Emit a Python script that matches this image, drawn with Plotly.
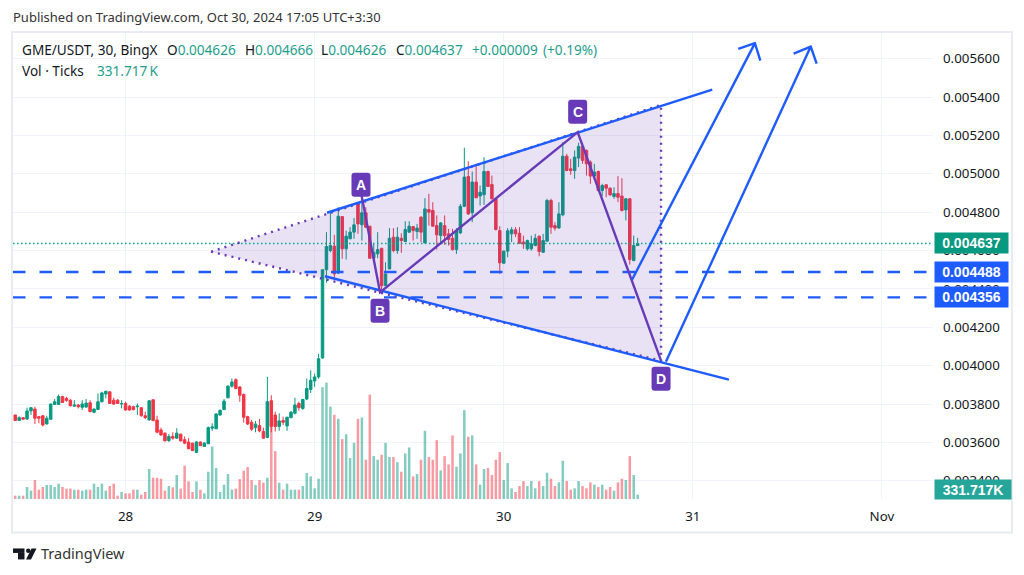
#!/usr/bin/env python3

import numpy as np
import pandas as pd
import plotly.graph_objects as go

# prices are in millionths of a USDT, volumes in thousands
TIMES = pd.date_range('2024-10-27 10:00', periods=159, freq='30min')

OPEN = [3743, 3714, 3729, 3722, 3764, 3774, 3734, 3739, 3696, 3721,
        3798, 3798, 3839, 3829, 3820, 3789, 3795, 3783, 3784, 3807,
        3757, 3772, 3812, 3852, 3864, 3820, 3820, 3800, 3803, 3789,
        3786, 3786, 3781, 3739, 3717, 3822, 3717, 3665, 3648, 3610,
        3631, 3622, 3643, 3614, 3602, 3596, 3548, 3602, 3579, 3593,
        3674, 3671, 3743, 3771, 3833, 3893, 3927, 3889, 3850, 3734,
        3705, 3677, 3688, 3657, 3626, 3817, 3743, 3683, 3714, 3686,
        3729, 3752, 3803, 3777, 3826, 3876, 3920, 3941, 4040, 4500,
        4600, 4623, 4482, 4777, 4609, 4661, 4696, 4843, 4734, 4797,
        4727, 4560, 4583, 4612, 4417, 4504, 4670, 4600, 4664, 4647,
        4696, 4725, 4699, 4774, 4640, 4814, 4809, 4730, 4678, 4730,
        4687, 4664, 4605, 4692, 4831, 4986, 4797, 4957, 4884, 4891,
        5012, 4944, 4870, 4704, 4534, 4597, 4687, 4708, 4690, 4644,
        4609, 4609, 4626, 4675, 4591, 4649, 4861, 4730, 4718, 4786,
        5092, 5026, 5017, 5082, 5143, 5122, 5061, 4988, 5012, 4913,
        4943, 4925, 4882, 4897, 4884, 4812, 4870, 4548, 4626]

HIGH = [3743, 3736, 3731, 3781, 3783, 3786, 3738, 3743, 3739, 3803,
        3826, 3850, 3843, 3838, 3826, 3820, 3800, 3820, 3826, 3820,
        3777, 3855, 3864, 3869, 3864, 3833, 3826, 3820, 3812, 3795,
        3791, 3803, 3783, 3760, 3820, 3826, 3739, 3677, 3653, 3643,
        3653, 3674, 3646, 3631, 3622, 3598, 3608, 3605, 3602, 3683,
        3700, 3752, 3772, 3826, 3898, 3933, 3933, 3893, 3855, 3739,
        3717, 3712, 3722, 3677, 3941, 3846, 3760, 3752, 3734, 3734,
        3764, 3833, 3812, 3826, 3933, 3976, 3958, 4062, 4500, 4696,
        4797, 4682, 4826, 4777, 4704, 4722, 4770, 4843, 4887, 4826,
        4727, 4635, 4696, 4612, 4539, 4717, 4717, 4722, 4690, 4753,
        4753, 4727, 4739, 4779, 4873, 4896, 4852, 4783, 4748, 4783,
        4713, 4713, 4717, 4843, 5136, 5066, 5012, 5052, 4939, 5087,
        5017, 4991, 4870, 4727, 4600, 4717, 4722, 4722, 4722, 4678,
        4657, 4678, 4687, 4678, 4687, 4870, 4870, 4748, 4852, 5165,
        5104, 5078, 5122, 5162, 5162, 5127, 5070, 5052, 5017, 4948,
        4943, 4930, 4930, 4988, 4977, 4873, 4873, 4678, 4666]

LOW = [3714, 3712, 3719, 3717, 3743, 3696, 3700, 3683, 3695, 3719,
       3795, 3795, 3807, 3812, 3788, 3788, 3777, 3769, 3781, 3758,
       3752, 3769, 3808, 3829, 3800, 3795, 3800, 3777, 3765, 3765,
       3767, 3743, 3734, 3721, 3714, 3710, 3648, 3634, 3605, 3602,
       3614, 3619, 3605, 3591, 3565, 3555, 3545, 3581, 3576, 3591,
       3660, 3669, 3739, 3769, 3829, 3886, 3877, 3812, 3703, 3691,
       3660, 3653, 3653, 3619, 3622, 3653, 3657, 3660, 3691, 3660,
       3726, 3746, 3765, 3769, 3820, 3858, 3889, 3932, 4036, 4432,
       4591, 4452, 4478, 4557, 4553, 4661, 4661, 4687, 4652, 4717,
       4557, 4557, 4560, 4379, 4417, 4504, 4591, 4583, 4588, 4647,
       4692, 4652, 4661, 4643, 4640, 4730, 4727, 4605, 4635, 4630,
       4626, 4600, 4583, 4687, 4826, 4786, 4748, 4873, 4835, 4838,
       4934, 4866, 4704, 4478, 4531, 4565, 4644, 4670, 4635, 4609,
       4600, 4600, 4623, 4570, 4588, 4647, 4687, 4704, 4713, 4779,
       5014, 4995, 4974, 5035, 5052, 4991, 4948, 4977, 4908, 4884,
       4878, 4884, 4870, 4852, 4804, 4757, 4527, 4544, 4626]

CLOSE = [3714, 3729, 3721, 3764, 3781, 3726, 3726, 3691, 3726, 3800,
         3812, 3839, 3808, 3819, 3791, 3795, 3786, 3800, 3805, 3760,
         3774, 3812, 3858, 3867, 3803, 3800, 3803, 3803, 3769, 3769,
         3771, 3789, 3739, 3729, 3817, 3714, 3653, 3639, 3608, 3631,
         3622, 3648, 3608, 3596, 3567, 3557, 3602, 3583, 3596, 3677,
         3681, 3748, 3767, 3815, 3893, 3915, 3881, 3846, 3731, 3696,
         3669, 3695, 3660, 3622, 3812, 3683, 3683, 3712, 3705, 3731,
         3757, 3795, 3781, 3824, 3881, 3924, 3941, 4036, 4500, 4621,
         4626, 4478, 4779, 4609, 4675, 4696, 4734, 4739, 4797, 4722,
         4560, 4591, 4605, 4417, 4478, 4664, 4600, 4670, 4652, 4710,
         4727, 4704, 4717, 4696, 4817, 4800, 4727, 4682, 4744, 4678,
         4657, 4605, 4704, 4831, 4983, 4791, 4957, 4875, 4904, 5012,
         4934, 4870, 4710, 4536, 4597, 4703, 4708, 4687, 4638, 4635,
         4652, 4635, 4664, 4595, 4652, 4861, 4722, 4717, 4791, 5092,
         5017, 5017, 5087, 5143, 5070, 5052, 4988, 5009, 4913, 4939,
         4925, 4891, 4897, 4878, 4809, 4870, 4553, 4626, 4637]

VOLUME = [256, 256, 256, 922, 640, 1459, 717, 922, 1075, 1075,
          922, 1178, 922, 794, 794, 717, 717, 640, 717, 717,
          1178, 922, 1178, 640, 998, 1178, 256, 538, 435, 435,
          717, 717, 333, 538, 2304, 1638, 1638, 1562, 640, 998,
          896, 1843, 794, 2560, 1357, 538, 1357, 717, 435, 2099,
          4045, 2381, 538, 1101, 1920, 717, 794, 1536, 2176, 2458,
          1459, 1075, 1459, 1254, 1638, 5581, 3686, 1254, 717, 1178,
          717, 717, 717, 998, 1997, 1741, 819, 1562, 8602, 8960,
          7117, 6477, 6170, 4608, 4992, 3149, 4326, 6170, 6272, 3021,
          8038, 3302, 3021, 3405, 4326, 3226, 3226, 2842, 2099, 3507,
          3968, 1741, 1920, 3021, 5248, 3226, 3021, 4531, 2202, 3302,
          2662, 4890, 2483, 3507, 6835, 4787, 4890, 2662, 1101, 2304,
          2381, 1843, 3021, 3610, 1459, 2765, 819, 538, 998, 1382,
          998, 1382, 819, 1382, 998, 2022, 1562, 998, 1280, 2944,
          1382, 717, 819, 1382, 998, 819, 1280, 1101, 922, 1101,
          717, 922, 640, 1280, 1562, 1459, 3302, 1843, 332]

PRICE_TICKS = [3400, 3600, 3800, 4000, 4200, 4400, 4600, 4800, 5000, 5200, 5400, 5600]
DATE_TICKS = ['2024-10-28', '2024-10-29', '2024-10-30', '2024-10-31', '2024-11-01']
DATE_LABELS = ['28', '29', '30', '31', 'Nov']

# the drawings on top of the candles, anchored in time and price
UPPER_T = ['2024-10-29 01:34', '2024-10-31 02:28']
UPPER_P = [4797, 5439]
LOWER_T = ['2024-10-29 01:19', '2024-10-31 04:35']
LOWER_P = [4466, 3927]

WEDGE_T = ['2024-10-28 10:51', '2024-10-30 19:58', '2024-10-30 19:58', '2024-10-28 11:29']
WEDGE_P = [4594, 4026, 5359, 4602]

ABCD_T = ['2024-10-29 05:58', '2024-10-29 08:18', '2024-10-30 09:23', '2024-10-30 19:58']
ABCD_P = [4885, 4382, 5217, 4026]
BADGE_TEXT = ['A', 'B', 'C', 'D']
BADGE_T = ['2024-10-29 05:53', '2024-10-29 08:18', '2024-10-30 09:23', '2024-10-30 19:58']
BADGE_P = [4943, 4286, 5323, 3932]

ARROW1_T = ['2024-10-30 16:17', '2024-10-31 07:53', '2024-10-31 05:46', '2024-10-31 07:53', '2024-10-31 08:34']
ARROW1_P = [4448, 5681, 5651, 5681, 5590]
ARROW2_T = ['2024-10-30 20:35', '2024-10-31 14:58', '2024-10-31 12:48', '2024-10-31 14:58', '2024-10-31 15:43']
ARROW2_P = [4021, 5663, 5626, 5663, 5574]

LEVELS = [4488, 4356]
LAST_PRICE = 4637

UP = '#089981'
DOWN = '#f23645'
BLUE = '#1f5cff'
PURPLE = '#673ab7'
TEXT = '#131722'
TEAL = '#1e9e8c'
GRID = '#f0f3fa'
FONT = 'Noto Sans'

X_RANGE = ['2024-10-27 09:43', '2024-11-01 06:29']
PLOT_L, PLOT_R, PLOT_T, PLOT_B = 13, 933, 33, 499.5


def micro(values):
    return np.array(values) * 1e-6


def px(x):
    return (x - PLOT_L) / (PLOT_R - PLOT_L)


def py(y):
    return (PLOT_B - y) / (PLOT_B - PLOT_T)


def line_trace(x, y, color, width, dash='solid'):
    return go.Scatter(x=x, y=micro(y), yaxis='y2', mode='lines', hoverinfo='skip',
                      line=dict(color=color, width=width, dash=dash))


def paper_text(x, y, text, size=13.6, color=TEXT, family=FONT):
    # annotations carry a little padding on their left
    return dict(xref='paper', yref='paper', x=px(x - 2.5), y=py(y), text=text, showarrow=False,
                xanchor='left', yanchor='middle', align='left',
                font=dict(family=family, size=size, color=color))


def price_tag(price, text, color, y=None, width=73, height=20):
    tag = dict(xref='paper', x=px(934), xanchor='left', yanchor='middle', text='<b>%s</b>' % text,
               showarrow=False, bgcolor=color, width=width, height=height, borderpad=0,
               font=dict(family='Liberation Sans', size=14, color='white'))
    if y is None:
        tag.update(yref='y2', y=price * 1e-6)
    else:
        tag.update(yref='paper', y=py(y))
    return tag


def badge_shape(t, price):
    # rounded box measured in pixels around its anchor
    path = ('M -6.5,-12 L 6.5,-12 Q 9.5,-12 9.5,-9 L 9.5,9 Q 9.5,12 6.5,12 L -6.5,12 '
            'Q -9.5,12 -9.5,9 L -9.5,-9 Q -9.5,-12 -6.5,-12 Z')
    return dict(type='path', xref='x', yref='y2', xsizemode='pixel', ysizemode='pixel',
                xanchor=t, yanchor=price * 1e-6, path=path, fillcolor=PURPLE,
                line=dict(width=0), layer='above')


def logo_shapes():
    def box(x0, y0, x1, y1):
        return dict(type='rect', xref='paper', yref='paper', x0=px(x0), x1=px(x1), y0=py(y0), y1=py(y1),
                    fillcolor='#131722', line=dict(width=0))
    slash = 'M %f,%f L %f,%f L %f,%f L %f,%f Z' % (px(31.5), py(549), px(36.5), py(549),
                                                   px(31), py(560), px(26), py(560))
    return [box(13, 549, 24.5, 553.5), box(18, 553.5, 24.5, 560),
            dict(type='circle', xref='paper', yref='paper', x0=px(26), x1=px(30.5), y0=py(553.5), y1=py(549),
                 fillcolor='#131722', line=dict(width=0)),
            dict(type='path', xref='paper', yref='paper', path=slash, fillcolor='#131722', line=dict(width=0))]


def legend_annotations():
    def up(s):
        return '<span style="color:%s">%s</span>' % (TEAL, s)
    pieces = [(22, 'GME/USDT, 30, BingX'),
              (167, 'O' + up('0.004626')),
              (245, 'H' + up('0.004666')),
              (321.5, 'L' + up('0.004626')),
              (396, 'C' + up('0.004637')),
              (472, up('+0.000009')),
              (543, up('(+0.19%)'))]
    return [paper_text(x, 50, text) for x, text in pieces]


def create_figure():
    opens, closes = np.array(OPEN), np.array(CLOSE)
    bar_colors = np.where(closes >= opens, 'rgba(8,153,129,0.5)', 'rgba(242,54,69,0.5)')

    data = [
        go.Bar(x=TIMES, y=VOLUME, yaxis='y', width=1.15e6, marker=dict(color=bar_colors, line=dict(width=0)),
               hoverinfo='skip'),
        go.Candlestick(x=TIMES, open=micro(OPEN), high=micro(HIGH), low=micro(LOW), close=micro(CLOSE), yaxis='y2',
                       whiskerwidth=0, hoverinfo='skip',
                       increasing=dict(line=dict(color=UP, width=1), fillcolor=UP),
                       decreasing=dict(line=dict(color=DOWN, width=1), fillcolor=DOWN)),
        go.Scatter(x=WEDGE_T, y=micro(WEDGE_P), yaxis='y2', mode='none', fill='toself', hoverinfo='skip',
                   fillcolor='rgba(103,58,183,0.15)'),
        line_trace(X_RANGE, [LAST_PRICE, LAST_PRICE], '#00a88e', 1.6, '1.5px,2.5px'),
    ]
    for level in LEVELS:
        data.append(line_trace(X_RANGE, [level, level], BLUE, 2.4, '12.5px,14px'))
    data += [
        line_trace(WEDGE_T + WEDGE_T[:1], WEDGE_P + WEDGE_P[:1], PURPLE, 2.4, '2px,5px'),
        line_trace(UPPER_T, UPPER_P, BLUE, 2.4),
        line_trace(LOWER_T, LOWER_P, BLUE, 2.4),
        line_trace(ABCD_T, ABCD_P, PURPLE, 2.4),
        line_trace(ARROW1_T, ARROW1_P, BLUE, 2.4),
        line_trace(ARROW2_T, ARROW2_P, BLUE, 2.4),
    ]

    annotations = legend_annotations() + [
        paper_text(13, 17, 'Published on TradingView.com, Oct 30, 2024 17:05 UTC+3:30', size=13, color='#333333'),
        paper_text(22, 71, 'Vol \u00b7 Ticks'),
        paper_text(97, 71, '331.717\u202fK', color=TEAL),
        paper_text(41, 554, 'TradingView', size=14.5, color='#333333'),
        price_tag(LAST_PRICE, '0.004637', UP),
        price_tag(LEVELS[0], '0.004488', BLUE),
        price_tag(LEVELS[1], '0.004356', BLUE),
        price_tag(None, '331.717K', '#26a69a', y=489.5, width=76, height=19),
    ]
    for text, t, price in zip(BADGE_TEXT, BADGE_T, BADGE_P):
        annotations.append(dict(xref='x', yref='y2', x=t, y=price * 1e-6, text='<b>%s</b>' % text, showarrow=False,
                                font=dict(family='Liberation Sans', size=14, color='white')))

    frame = dict(type='rect', xref='paper', yref='paper', x0=px(12), x1=px(1012), y0=py(533), y1=py(32),
                 line=dict(color='#e9ebf2', width=2), fillcolor='rgba(0,0,0,0)', layer='below')
    shapes = [frame] + [badge_shape(t, p) for t, p in zip(BADGE_T, BADGE_P)] + logo_shapes()

    layout = go.Layout(
        width=1024, height=575,
        margin=dict(l=PLOT_L, r=1024 - PLOT_R, t=PLOT_T, b=575 - PLOT_B, pad=0),
        paper_bgcolor='white', plot_bgcolor='white',
        showlegend=False,
        barmode='overlay',
        boxgap=0.1,
        font=dict(family=FONT, size=13.3, color=TEXT),
        xaxis=dict(type='date', range=X_RANGE, tickvals=DATE_TICKS, ticktext=DATE_LABELS,
                   showgrid=True, gridcolor=GRID, gridwidth=1, zeroline=False, showline=False,
                   ticks='', ticklabelstandoff=8, rangeslider=dict(visible=False)),
        yaxis=dict(range=[0, 35870], visible=False, fixedrange=True),
        yaxis2=dict(overlaying='y', side='right', range=[0.003305, 0.005734],
                    tickvals=micro(PRICE_TICKS), tickformat='.6f',
                    showgrid=True, gridcolor=GRID, gridwidth=1, zeroline=False, showline=False,
                    ticks='', ticklabelstandoff=9),
        annotations=annotations,
        shapes=shapes,
    )
    return go.Figure(data=data, layout=layout)


if __name__ == '__main__':
    fig = create_figure()
    fig.write_html("out.html", config=dict(displayModeBar=False),
                   post_script="document.body.style.margin='0';document.body.style.overflow='hidden';")
